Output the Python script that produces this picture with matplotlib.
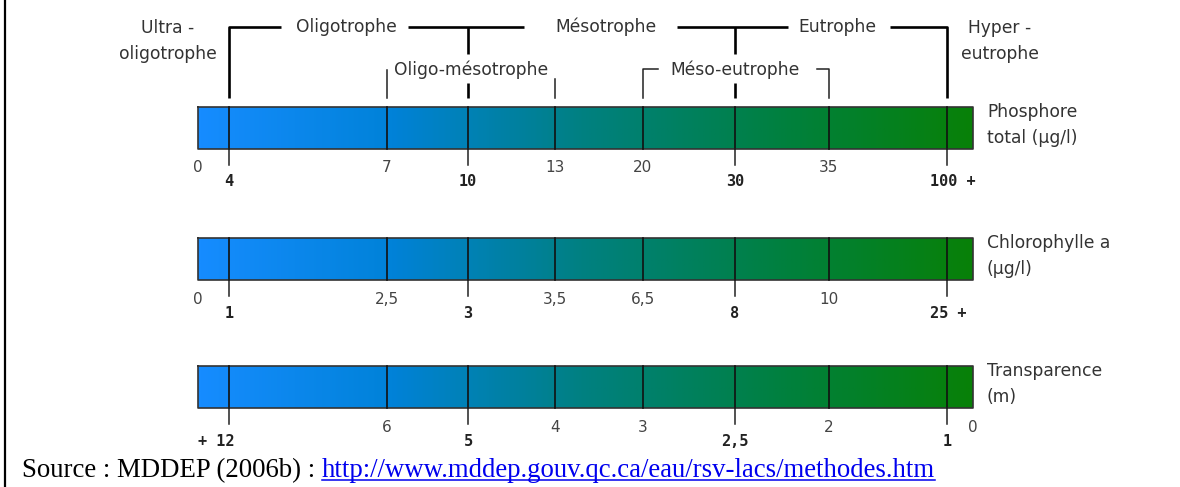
import numpy as np
import matplotlib
matplotlib.use("Agg")
import matplotlib.pyplot as plt
from matplotlib.colors import LinearSegmentedColormap

# --- data -------------------------------------------------------------
main_classes = ["Ultra -\noligotrophe", "Oligotrophe", "Mésotrophe", "Eutrophe", "Hyper -\neutrophe"]
mid_classes = ["Oligo-mésotrophe", "Méso-eutrophe"]

indicators = ["Phosphore\ntotal (µg/l)", "Chlorophylle a\n(µg/l)", "Transparence\n(m)"]
phosphore = ["4", "7", "10", "13", "20", "30", "35", "100"]
chlorophylle = ["1", "2,5", "3", "3,5", "6,5", "8", "10", "25"]
transparence = ["12", "6", "5", "4", "3", "2,5", "2", "1"]
major = [True, False, True, False, False, True, False, True]
start_labels = ["0", "0", None]
end_labels = [None, None, "0"]

source_text = "Source : MDDEP (2006b) : "
source_url = "http://www.mddep.gouv.qc.ca/eau/rsv-lacs/methodes.htm"

# --- layout (pixels) --------------------------------------------------
W, H = 1180, 487
bar_left, bar_right = 198, 973
edge_x = [229, 387, 468, 555, 643, 735, 829, 947]
bar_top = [107, 238, 366]
bar_h = 42
bracket_y = 27

txt_col = "#333333"
num_font = dict(family="DejaVu Sans", fontsize=11, color="#444444")
bold_font = dict(family="DejaVu Sans Mono", fontsize=11, fontweight="bold", color="#222222")
lab_font = dict(family="DejaVu Sans", fontsize=12.3, color=txt_col)

fig = plt.figure(figsize=(W / 100, H / 100), dpi=100)
ax = fig.add_axes([0, 0, 1, 1])

cmap = LinearSegmentedColormap.from_list("troph", ["#168cff", "#0082d8", "#008080", "#008040", "#088008"])
grad = np.linspace(0, 1, 400)[None, :]

series = [phosphore, chlorophylle, transparence]
for k, (vals, top) in enumerate(zip(series, bar_top)):
    bot = top + bar_h
    ax.imshow(grad, extent=(bar_left, bar_right, bot, top), aspect="auto", cmap=cmap, zorder=1)
    ax.plot([bar_left, bar_right, bar_right, bar_left, bar_left], [top, top, bot, bot, top],
            color="#333333", lw=1.2, zorder=3)
    for x, v, is_major in zip(edge_x, vals, major):
        ax.plot([x, x], [top, bot], color="#111111", lw=1.2, zorder=3)
        if is_major:
            ax.plot([x, x], [bot, bot + 16], color="#222222", lw=1.1, zorder=3)
            label = v
            ha = "center"
            xx = x
            if x == edge_x[-1] and k < 2:
                label, ha, xx = v + " +", "left", x - 17
            if x == edge_x[0] and k == 2:
                label, ha, xx = "+ " + v, "right", x + 5
            ax.text(xx, bot + 33, label, ha=ha, va="center", **bold_font)
        else:
            ax.text(x, bot + 19, v, ha="center", va="center", **num_font)
    if start_labels[k]:
        ax.text(bar_left, bot + 19, start_labels[k], ha="center", va="center", **num_font)
    if end_labels[k]:
        ax.text(bar_right, bot + 19, end_labels[k], ha="center", va="center", **num_font)
    ax.text(987, top + 18, indicators[k], ha="left", va="center", linespacing=1.55, **lab_font)

# --- main class brackets ----------------------------------------------
lw_big = 1.9
ax.text(168, 41, main_classes[0], ha="center", va="center", linespacing=1.6, **lab_font)
ax.text(1000, 41, main_classes[4], ha="center", va="center", linespacing=1.6, **lab_font)
ax.text(346, bracket_y, main_classes[1], ha="center", va="center", **lab_font)
ax.text(606, bracket_y, main_classes[2], ha="center", va="center", **lab_font)
ax.text(837, bracket_y, main_classes[3], ha="center", va="center", **lab_font)

ax.plot([edge_x[0], edge_x[0], 281], [98, bracket_y, bracket_y], color="k", lw=lw_big, solid_capstyle="butt")
ax.plot([408, 524], [bracket_y, bracket_y], color="k", lw=lw_big, solid_capstyle="butt")
ax.plot([677, 788], [bracket_y, bracket_y], color="k", lw=lw_big, solid_capstyle="butt")
ax.plot([890, edge_x[-1], edge_x[-1]], [bracket_y, bracket_y, 98], color="k", lw=lw_big, solid_capstyle="butt")
for x in (edge_x[2], edge_x[5]):
    ax.plot([x, x], [bracket_y, 54], color="k", lw=lw_big, solid_capstyle="butt")
    ax.plot([x, x], [83, 98], color="k", lw=lw_big, solid_capstyle="butt")

# --- intermediate classes ---------------------------------------------
lw_small = 1.1
ax.text(471, 70, mid_classes[0], ha="center", va="center", **lab_font)
ax.plot([edge_x[1], edge_x[1]], [70, 98], color="#222222", lw=lw_small)
ax.plot([edge_x[3], edge_x[3]], [79, 98], color="#222222", lw=lw_small)
ax.text(735, 70, mid_classes[1], ha="center", va="center", **lab_font)
ax.plot([edge_x[4], edge_x[4], 658], [98, 69, 69], color="#222222", lw=lw_small)
ax.plot([817, edge_x[6], edge_x[6]], [69, 69, 98], color="#222222", lw=lw_small)

ax.set_xlim(0, W)
ax.set_ylim(H, 0)
ax.axis("off")

# --- frame line and source --------------------------------------------
ax.plot([5, 5], [0, H], color="k", lw=1.6)
t1 = ax.text(22, 477, source_text, ha="left", va="baseline",
             family="Liberation Serif", fontsize=19.3, color="black")
fig.canvas.draw()
bb = t1.get_window_extent().transformed(ax.transData.inverted())
x_url = max(bb.x0, bb.x1)
t2 = ax.text(x_url, 477, source_url, ha="left", va="baseline",
             family="Liberation Serif", fontsize=19.3, color="#0000ee")
fig.canvas.draw()
bb2 = t2.get_window_extent().transformed(ax.transData.inverted())
ax.plot([min(bb2.x0, bb2.x1), max(bb2.x0, bb2.x1)], [479.5, 479.5], color="#0000ee", lw=1.1)

ax.set_xlim(0, W)
ax.set_ylim(H, 0)
fig.savefig("out.png", dpi=100)
